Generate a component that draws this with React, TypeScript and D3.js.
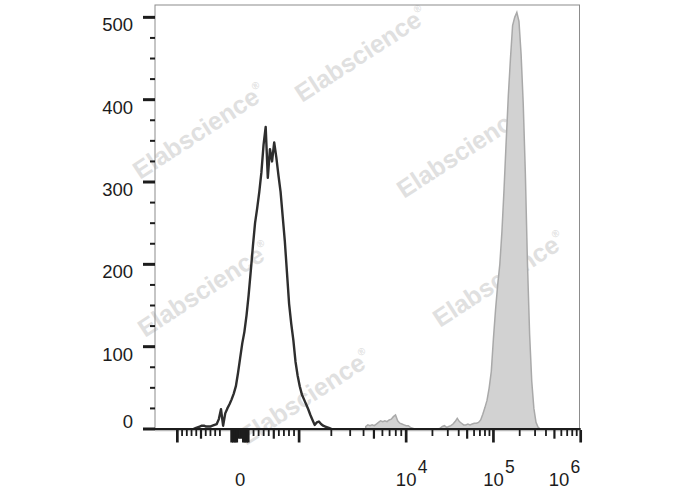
import React from "react";
import * as d3 from "d3";

// ---------- data (histogram counts per display channel, 200 channels) ----------
const channelCount = 200;

// unstained / control (dark outline)
const controlStart = 18;
const controlCounts = [
  0, 1, 2, 3, 4, 4, 3, 3, 3, 4, 5, 6, 12, 24, 4, 19, 25, 30, 36, 43, 52, 68, 86,
  104, 118, 138, 163, 192, 222, 250, 268, 288, 312, 345, 367, 305, 340, 325, 348,
  330, 308, 288, 258, 228, 190, 152, 128, 108, 82, 65, 52, 42, 36, 30, 24, 17, 11,
  5, 8, 9, 6, 4, 3, 2, 1, 0,
];

// stained sample (gray filled)
const sampleStart = 99;
const sampleCounts = [
  3, 5, 4, 5, 4, 6, 8, 10, 9, 10, 9, 11, 12, 15, 17, 10, 7, 6, 5, 4, 4, 2, 1, 0,
  0, 0, 0, 0, 0, 0, 0, 0, 0, 0, 0, 1, 3, 4, 2, 3, 4, 6, 9, 13, 9, 7, 5, 5, 6, 5,
  6, 7, 7, 8, 11, 18, 26, 35, 50, 70, 110, 145, 175, 200, 240, 292, 350, 405, 450,
  490, 500, 506, 495, 455, 395, 310, 200, 115, 58, 25, 8, 2, 0,
];

// y axis
const yMax = 515;
const yMajorTicks = [0, 100, 200, 300, 400, 500];
const yMinorTicks = [25, 50, 75, 125, 150, 175, 225, 250, 275, 325, 350, 375, 425, 450, 475];

// x axis (biexponential display): anchors value -> channel
const linAnchorValues = [-1000, -100, -50, 0, 50, 100, 1000];
const linAnchorChannels = [10.5, 30.5, 36, 40, 43.8, 46.3, 67.7];
const logAnchorDecades = [3, 4, 5, 6];
const logAnchorChannels = [67.7, 118, 159, 200];

const xLongTicks = [-1000, -50, -40, -30, -20, 20, 30, 40, 50, 1000, 1e4, 1e5, 1e6];
const xMediumTicks = [-500, -10, 0, 10, 500, 5000, 5e4, 5e5];
const xMinorTicks = [
  -900, -800, -700, -600, -400, -300, -200, -100, 100, 200, 300, 400, 600, 700, 800,
  900, 2000, 3000, 4000, 6000, 7000, 8000, 9000, 2e4, 3e4, 4e4, 6e4, 7e4, 8e4, 9e4,
  2e5, 3e5, 4e5, 6e5, 7e5, 8e5, 9e5,
];
const xLabels = [
  { value: 0, base: "0", exp: "" },
  { value: 1e4, base: "10", exp: "4" },
  { value: 1e5, base: "10", exp: "5" },
  { value: 1e6, base: "10", exp: "6" },
];

const watermarkText = "Elabscience";

// ---------- component ----------
export default function App() {
  const W = 688;
  const H = 490;
  const left = 155;
  const right = 580.7;
  const top = 5;
  const bottom = 429;

  const x = d3.scaleLinear().domain([0, channelCount]).range([left, right]);
  const y = d3.scaleLinear().domain([0, yMax]).range([bottom, top]);

  const linPart = d3.scaleLinear().domain(linAnchorValues).range(linAnchorChannels);
  const logPart = d3.scaleLinear().domain(logAnchorDecades).range(logAnchorChannels);
  const toChannel = (v: number) => (v > 1000 ? logPart(Math.log10(v)) : linPart(v));
  const xv = (v: number) => x(toChannel(v));

  const controlPts: [number, number][] = controlCounts.map((c, i) => [controlStart + i, c]);
  const samplePts: [number, number][] = sampleCounts.map((c, i) => [sampleStart + i, c]);

  const line = d3
    .line<[number, number]>()
    .x((d) => x(d[0]))
    .y((d) => y(d[1]));
  const area = d3
    .area<[number, number]>()
    .x((d) => x(d[0]))
    .y0(y(0))
    .y1((d) => y(d[1]));

  const font = "'Liberation Sans', Arial, Helvetica, sans-serif";
  const ink = "#1c1c1c";

  const wm = [
    [362, 56],
    [200, 133],
    [464, 152],
    [205, 291],
    [500, 281],
    [306, 399],
  ];

  return (
    <svg
      width={W}
      height={H}
      style={{ position: "absolute", left: 0, top: 0, background: "#fff" }}
      fontFamily={font}
    >
      <rect x={0} y={0} width={W} height={H} fill="#fff" />

      {/* watermarks */}
      {wm.map(([cx, cy], i) => (
        <text
          key={"wm" + i}
          transform={`translate(${cx},${cy}) rotate(-33)`}
          textAnchor="middle"
          dominantBaseline="middle"
          fontSize={25}
          fontWeight="bold"
          fill="#e0e0e0"
        >
          {watermarkText}
          <tspan fontSize={10} dy={-9}>®</tspan>
        </text>
      ))}

      {/* frame */}
      <rect
        x={left}
        y={top}
        width={579.5 - left}
        height={bottom - top}
        fill="none"
        stroke="#8c8c8c"
        strokeWidth={1}
      />

      {/* sample histogram */}
      <path d={area(samplePts) || ""} fill="#d2d2d2" stroke="#a9a9a9" strokeWidth={1.5} />
      <line x1={left} x2={579.5} y1={bottom + 1.6} y2={bottom + 1.6} stroke="#b8b8b8" strokeWidth={1.5} />

      {/* control histogram */}
      <path d={line(controlPts) || ""} fill="none" stroke="#2e2e2e" strokeWidth={2.4} strokeLinejoin="round" />

      {/* baseline */}
      <line x1={143} x2={580.7} y1={bottom} y2={bottom} stroke={ink} strokeWidth={2} />

      {/* y axis ticks */}
      {yMajorTicks.map((t) => (
        <line key={"ym" + t} x1={143} x2={left} y1={y(t)} y2={y(t)} stroke={ink} strokeWidth={3} />
      ))}
      {yMinorTicks.map((t) => (
        <line key={"yn" + t} x1={150} x2={left} y1={y(t)} y2={y(t)} stroke={ink} strokeWidth={2} />
      ))}
      {yMajorTicks.map((t) => (
        <text
          key={"yl" + t}
          x={133}
          y={t === 0 ? y(t) - 1 : y(t) + 14}
          textAnchor="end"
          fontSize={18.5}
          fill={ink}
        >
          {t}
        </text>
      ))}

      {/* x axis ticks */}
      {xMinorTicks.map((t) => (
        <line key={"xn" + t} x1={xv(t)} x2={xv(t)} y1={bottom + 1} y2={436} stroke={ink} strokeWidth={1.8} />
      ))}
      {xMediumTicks.map((t) => (
        <line key={"xd" + t} x1={xv(t)} x2={xv(t)} y1={bottom + 1} y2={438.7} stroke={ink} strokeWidth={2.2} />
      ))}
      {xLongTicks.map((t) => (
        <line key={"xl" + t} x1={xv(t)} x2={xv(t)} y1={bottom + 1} y2={442.5} stroke={ink} strokeWidth={2.7} />
      ))}

      {/* x labels */}
      {xLabels.map((l) => {
        const px = xv(l.value);
        const shift = l.exp ? Math.min(0, 581 - (px + 22)) : 0;
        return (
          <g key={"xlab" + l.value}>
            <text x={px + shift} y={486} textAnchor="middle" fontSize={18.5} fill={ink}>
              {l.base}
            </text>
            {l.exp && (
              <text x={px + shift + 11.5} y={473} textAnchor="start" fontSize={17.5} fill={ink}>
                {l.exp}
              </text>
            )}
          </g>
        );
      })}
    </svg>
  );
}
